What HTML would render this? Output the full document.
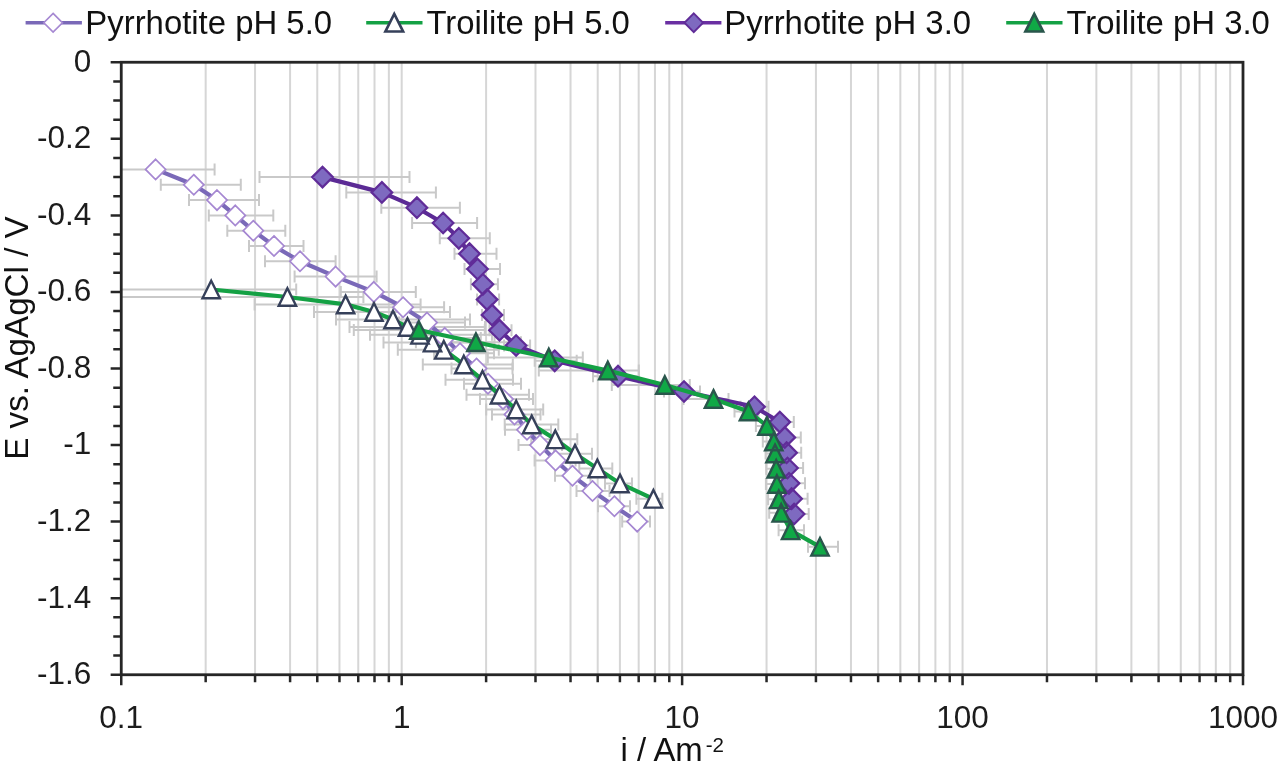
<!DOCTYPE html>
<html><head><meta charset="utf-8"><title>Chart</title>
<style>html,body{margin:0;padding:0;background:#fff;}svg{display:block;will-change:transform;}</style>
</head><body>
<svg width="1280" height="772" viewBox="0 0 1280 772">
<rect width="1280" height="772" fill="#ffffff"/>
<path d="M205.67 62.25V674.75M255.05 62.25V674.75M290.09 62.25V674.75M317.27 62.25V674.75M339.47 62.25V674.75M358.25 62.25V674.75M374.51 62.25V674.75M388.86 62.25V674.75M401.69 62.25V674.75M486.11 62.25V674.75M535.49 62.25V674.75M570.53 62.25V674.75M597.70 62.25V674.75M619.91 62.25V674.75M638.68 62.25V674.75M654.95 62.25V674.75M669.29 62.25V674.75M682.12 62.25V674.75M766.55 62.25V674.75M815.93 62.25V674.75M850.97 62.25V674.75M878.14 62.25V674.75M900.35 62.25V674.75M919.12 62.25V674.75M935.39 62.25V674.75M949.73 62.25V674.75M962.56 62.25V674.75M1046.98 62.25V674.75M1096.37 62.25V674.75M1131.40 62.25V674.75M1158.58 62.25V674.75M1180.79 62.25V674.75M1199.56 62.25V674.75M1215.82 62.25V674.75M1230.17 62.25V674.75" stroke="#d6d6d6" stroke-width="2" fill="none"/>
<clipPath id="cp"><rect x="121.25" y="62.25" width="1121.75" height="612.5"/></clipPath>
<g clip-path="url(#cp)">
<path d="M95.6 169.4H214.6M95.6 163.4v12M214.6 163.4v12M160.8 184.8H240.8M160.8 178.8v12M240.8 178.8v12M189.0 200.1H259.0M189.0 194.1v12M259.0 194.1v12M208.8 215.4H273.3M208.8 209.4v12M273.3 209.4v12M227.3 230.7H285.3M227.3 224.7v12M285.3 224.7v12M249.0 246.0H303.5M249.0 240.0v12M303.5 240.0v12M265.0 261.3H335.6M265.0 255.3v12M335.6 255.3v12M294.6 276.6H376.6M294.6 270.6v12M376.6 270.6v12M340.8 291.9H415.8M340.8 285.9v12M415.8 285.9v12M373.1 307.2H444.1M373.1 301.2v12M444.1 301.2v12M399.0 322.6H465.0M399.0 316.6v12M465.0 316.6v12M417.8 337.9H480.8M417.8 331.9v12M480.8 331.9v12M434.0 353.2H494.0M434.0 347.2v12M494.0 347.2v12M451.5 368.5H512.5M451.5 362.5v12M512.5 362.5v12M464.0 383.8H521.0M464.0 377.8v12M521.0 377.8v12M480.0 399.1H533.0M480.0 393.1v12M533.0 393.1v12M492.0 414.4H540.5M492.0 408.4v12M540.5 408.4v12M505.0 429.8H551.0M505.0 423.8v12M551.0 423.8v12M518.5 445.1H562.0M518.5 439.1v12M562.0 439.1v12M534.6 460.4H575.6M534.6 454.4v12M575.6 454.4v12M555.0 475.7H590.5M555.0 469.7v12M590.5 469.7v12M576.5 491.0H609.5M576.5 485.0v12M609.5 485.0v12M598.0 506.3H630.0M598.0 500.3v12M630.0 500.3v12M622.2 521.6H650.0M622.2 515.6v12M650.0 515.6v12" stroke="#c9c9c9" stroke-width="2" fill="none"/>
<path d="M11.2 289.5H296.2M11.2 283.5v12M296.2 283.5v12M87.4 297.0H363.4M87.4 291.0v12M363.4 291.0v12M254.6 304.4H420.6M254.6 298.4v12M420.6 298.4v12M314.0 312.0H450.0M314.0 306.0v12M450.0 306.0v12M336.0 319.5H470.0M336.0 313.5v12M470.0 313.5v12M349.5 327.0H485.0M349.5 321.0v12M485.0 321.0v12M370.0 334.8H492.0M370.0 328.8v12M492.0 328.8v12M383.5 342.6H494.5M383.5 336.6v12M494.5 336.6v12M397.8 349.8H498.8M397.8 343.8v12M498.8 343.8v12M422.8 364.5H512.8M422.8 358.5v12M512.8 358.5v12M445.5 379.8H513.0M445.5 373.8v12M513.0 373.8v12M466.5 394.7H529.0M466.5 388.7v12M529.0 388.7v12M486.2 409.5H543.2M486.2 403.5v12M543.2 403.5v12M504.7 424.4H558.3M504.7 418.4v12M558.3 418.4v12M531.3 439.3H577.3M531.3 433.3v12M577.3 433.3v12M554.0 453.7H592.0M554.0 447.7v12M592.0 447.7v12M579.3 468.4H612.3M579.3 462.4v12M612.3 462.4v12M605.0 483.4H632.0M605.0 477.4v12M632.0 477.4v12M636.4 498.8H662.4M636.4 492.8v12M662.4 492.8v12" stroke="#c9c9c9" stroke-width="2" fill="none"/>
<path d="M259.5 177.1H409.5M259.5 171.1v12M409.5 171.1v12M346.3 192.4H435.9M346.3 186.4v12M435.9 186.4v12M381.3 207.7H459.9M381.3 201.7v12M459.9 201.7v12M412.1 223.0H477.1M412.1 217.0v12M477.1 217.0v12M439.8 238.3H489.8M439.8 232.3v12M489.8 232.3v12M454.5 253.7H496.5M454.5 247.7v12M496.5 247.7v12M464.5 269.0H500.0M464.5 263.0v12M500.0 263.0v12M470.9 284.3H497.9M470.9 278.3v12M497.9 278.3v12M477.1 299.6H499.1M477.1 293.6v12M499.1 293.6v12M482.0 314.9H504.0M482.0 308.9v12M504.0 308.9v12M489.5 330.2H511.5M489.5 324.2v12M511.5 324.2v12M504.1 345.5H530.1M504.1 339.5v12M530.1 339.5v12M534.7 360.8H576.7M534.7 354.8v12M576.7 354.8v12M593.0 376.2H639.0M593.0 370.2v12M639.0 370.2v12M664.0 391.5H700.0M664.0 385.5v12M700.0 385.5v12M740.5 406.8H768.5M740.5 400.8v12M768.5 400.8v12M767.8 422.1H793.8M767.8 416.1v12M793.8 416.1v12M772.8 437.4H800.8M772.8 431.4v12M800.8 431.4v12M774.6 452.7H801.2M774.6 446.7v12M801.2 446.7v12M775.5 468.0H803.1M775.5 462.0v12M803.1 462.0v12M777.0 483.3H805.0M777.0 477.3v12M805.0 477.3v12M779.6 498.7H807.6M779.6 492.7v12M807.6 492.7v12M782.1 514.0H808.7M782.1 508.0v12M808.7 508.0v12" stroke="#c9c9c9" stroke-width="2" fill="none"/>
<path d="M353.8 330.0H484.8M353.8 324.0v12M484.8 324.0v12M415.9 342.2H520.9M415.9 336.2v12M520.9 336.2v12M487.8 357.5H582.8M487.8 351.5v12M582.8 351.5v12M538.8 370.6H638.8M538.8 364.6v12M638.8 364.6v12M611.8 385.0H689.8M611.8 379.0v12M689.8 379.0v12M683.5 398.9H728.5M683.5 392.9v12M728.5 392.9v12M734.5 411.5H758.5M734.5 405.5v12M758.5 405.5v12M755.9 425.9H775.9M755.9 419.9v12M775.9 419.9v12M762.8 441.5H782.8M762.8 435.5v12M782.8 435.5v12M765.6 453.4H784.0M765.6 447.4v12M784.0 447.4v12M766.2 468.8H785.2M766.2 462.8v12M785.2 462.8v12M765.9 484.0H785.9M765.9 478.0v12M785.9 478.0v12M768.1 499.3H787.8M768.1 493.3v12M787.8 493.3v12M769.2 512.8H790.2M769.2 506.8v12M790.2 506.8v12M778.6 530.3H804.0M778.6 524.3v12M804.0 524.3v12M808.0 546.8H838.0M808.0 540.8v12M838.0 540.8v12" stroke="#c9c9c9" stroke-width="2" fill="none"/>
<path d="M155.6 169.4L193.8 184.8L217.0 200.1L235.3 215.4L253.3 230.7L274.0 246.0L300.0 261.3L335.6 276.6L373.8 291.9L403.1 307.2L427.0 322.6L444.8 337.9L460.0 353.2L476.5 368.5L488.0 383.8L503.0 399.1L514.5 414.4L527.0 429.8L540.0 445.1L555.6 460.4L572.5 475.7L592.5 491.0L614.4 506.3L637.2 521.6" stroke="#7a69b8" stroke-width="4.2" fill="none" stroke-linejoin="round" stroke-linecap="round"/>
<path d="M155.6 159.3l10.1 10.1l-10.1 10.1l-10.1 -10.1zM193.8 174.7l10.1 10.1l-10.1 10.1l-10.1 -10.1zM217.0 190.0l10.1 10.1l-10.1 10.1l-10.1 -10.1zM235.3 205.3l10.1 10.1l-10.1 10.1l-10.1 -10.1zM253.3 220.6l10.1 10.1l-10.1 10.1l-10.1 -10.1zM274.0 235.9l10.1 10.1l-10.1 10.1l-10.1 -10.1zM300.0 251.2l10.1 10.1l-10.1 10.1l-10.1 -10.1zM335.6 266.5l10.1 10.1l-10.1 10.1l-10.1 -10.1zM373.8 281.8l10.1 10.1l-10.1 10.1l-10.1 -10.1zM403.1 297.1l10.1 10.1l-10.1 10.1l-10.1 -10.1zM427.0 312.5l10.1 10.1l-10.1 10.1l-10.1 -10.1zM444.8 327.8l10.1 10.1l-10.1 10.1l-10.1 -10.1zM460.0 343.1l10.1 10.1l-10.1 10.1l-10.1 -10.1zM476.5 358.4l10.1 10.1l-10.1 10.1l-10.1 -10.1zM488.0 373.7l10.1 10.1l-10.1 10.1l-10.1 -10.1zM503.0 389.0l10.1 10.1l-10.1 10.1l-10.1 -10.1zM514.5 404.3l10.1 10.1l-10.1 10.1l-10.1 -10.1zM527.0 419.7l10.1 10.1l-10.1 10.1l-10.1 -10.1zM540.0 435.0l10.1 10.1l-10.1 10.1l-10.1 -10.1zM555.6 450.3l10.1 10.1l-10.1 10.1l-10.1 -10.1zM572.5 465.6l10.1 10.1l-10.1 10.1l-10.1 -10.1zM592.5 480.9l10.1 10.1l-10.1 10.1l-10.1 -10.1zM614.4 496.2l10.1 10.1l-10.1 10.1l-10.1 -10.1zM637.2 511.5l10.1 10.1l-10.1 10.1l-10.1 -10.1z" fill="#ffffff" stroke="#a688d2" stroke-width="1.7" stroke-linejoin="miter"/>
<path d="M211.2 289.5L287.4 297.0L345.6 304.4L374.0 312.0L393.0 319.5L407.5 327.0L420.0 334.8L432.5 342.6L443.8 349.8L463.8 364.5L482.5 379.8L499.5 394.7L516.2 409.5L531.7 424.4L555.3 439.3L575.0 453.7L597.3 468.4L620.0 483.4L653.4 498.8" stroke="#14a144" stroke-width="4.2" fill="none" stroke-linejoin="round" stroke-linecap="round"/>
<path d="M211.2 280.7l8.7 17.6h-17.4zM287.4 288.2l8.7 17.6h-17.4zM345.6 295.6l8.7 17.6h-17.4zM374.0 303.2l8.7 17.6h-17.4zM393.0 310.7l8.7 17.6h-17.4zM407.5 318.2l8.7 17.6h-17.4zM420.0 326.0l8.7 17.6h-17.4zM432.5 333.8l8.7 17.6h-17.4zM443.8 341.0l8.7 17.6h-17.4zM463.8 355.7l8.7 17.6h-17.4zM482.5 371.0l8.7 17.6h-17.4zM499.5 385.9l8.7 17.6h-17.4zM516.2 400.7l8.7 17.6h-17.4zM531.7 415.6l8.7 17.6h-17.4zM555.3 430.5l8.7 17.6h-17.4zM575.0 444.9l8.7 17.6h-17.4zM597.3 459.6l8.7 17.6h-17.4zM620.0 474.6l8.7 17.6h-17.4zM653.4 490.0l8.7 17.6h-17.4z" fill="#ffffff" stroke="#36405a" stroke-width="2.4" stroke-linejoin="miter"/>
<path d="M322.5 177.1L381.9 192.4L416.9 207.7L443.1 223.0L458.8 238.3L469.5 253.7L477.5 269.0L482.9 284.3L487.1 299.6L492.0 314.9L499.5 330.2L516.1 345.5L554.7 360.8L618.0 376.2L684.0 391.5L754.5 406.8L779.8 422.1L784.8 437.4L786.6 452.7L787.5 468.0L789.0 483.3L791.6 498.7L794.1 514.0" stroke="#5b2a95" stroke-width="4.2" fill="none" stroke-linejoin="round" stroke-linecap="round"/>
<path d="M322.5 166.8l10.3 10.3l-10.3 10.3l-10.3 -10.3zM381.9 182.1l10.3 10.3l-10.3 10.3l-10.3 -10.3zM416.9 197.4l10.3 10.3l-10.3 10.3l-10.3 -10.3zM443.1 212.7l10.3 10.3l-10.3 10.3l-10.3 -10.3zM458.8 228.0l10.3 10.3l-10.3 10.3l-10.3 -10.3zM469.5 243.4l10.3 10.3l-10.3 10.3l-10.3 -10.3zM477.5 258.7l10.3 10.3l-10.3 10.3l-10.3 -10.3zM482.9 274.0l10.3 10.3l-10.3 10.3l-10.3 -10.3zM487.1 289.3l10.3 10.3l-10.3 10.3l-10.3 -10.3zM492.0 304.6l10.3 10.3l-10.3 10.3l-10.3 -10.3zM499.5 319.9l10.3 10.3l-10.3 10.3l-10.3 -10.3zM516.1 335.2l10.3 10.3l-10.3 10.3l-10.3 -10.3zM554.7 350.5l10.3 10.3l-10.3 10.3l-10.3 -10.3zM618.0 365.9l10.3 10.3l-10.3 10.3l-10.3 -10.3zM684.0 381.2l10.3 10.3l-10.3 10.3l-10.3 -10.3zM754.5 396.5l10.3 10.3l-10.3 10.3l-10.3 -10.3zM779.8 411.8l10.3 10.3l-10.3 10.3l-10.3 -10.3zM784.8 427.1l10.3 10.3l-10.3 10.3l-10.3 -10.3zM786.6 442.4l10.3 10.3l-10.3 10.3l-10.3 -10.3zM787.5 457.7l10.3 10.3l-10.3 10.3l-10.3 -10.3zM789.0 473.0l10.3 10.3l-10.3 10.3l-10.3 -10.3zM791.6 488.4l10.3 10.3l-10.3 10.3l-10.3 -10.3zM794.1 503.7l10.3 10.3l-10.3 10.3l-10.3 -10.3z" fill="#7e6ac0" stroke="#602c98" stroke-width="2.2" stroke-linejoin="miter"/>
<path d="M418.8 330.0L475.9 342.2L548.8 357.5L607.8 370.6L664.8 385.0L713.5 398.9L748.5 411.5L766.9 425.9L773.8 441.5L775.0 453.4L776.2 468.8L776.9 484.0L778.8 499.3L781.2 512.8L790.6 530.3L820.0 546.8" stroke="#14a144" stroke-width="4.2" fill="none" stroke-linejoin="round" stroke-linecap="round"/>
<path d="M418.8 321.2l8.7 17.6h-17.4zM475.9 333.4l8.7 17.6h-17.4zM548.8 348.7l8.7 17.6h-17.4zM607.8 361.8l8.7 17.6h-17.4zM664.8 376.2l8.7 17.6h-17.4zM713.5 390.1l8.7 17.6h-17.4zM748.5 402.7l8.7 17.6h-17.4zM766.9 417.1l8.7 17.6h-17.4zM773.8 432.7l8.7 17.6h-17.4zM775.0 444.6l8.7 17.6h-17.4zM776.2 460.0l8.7 17.6h-17.4zM776.9 475.2l8.7 17.6h-17.4zM778.8 490.5l8.7 17.6h-17.4zM781.2 504.0l8.7 17.6h-17.4zM790.6 521.5l8.7 17.6h-17.4zM820.0 538.0l8.7 17.6h-17.4z" fill="#10a846" stroke="#2a564c" stroke-width="2.4" stroke-linejoin="miter"/>
</g>
<rect x="121.25" y="62.25" width="1121.75" height="612.5" fill="none" stroke="#262626" stroke-width="2.8"/>
<path d="M110.65 62.25H121.25M113.25 81.39H121.25M113.25 100.53H121.25M113.25 119.67H121.25M110.65 138.81H121.25M113.25 157.95H121.25M113.25 177.09H121.25M113.25 196.23H121.25M110.65 215.38H121.25M113.25 234.52H121.25M113.25 253.66H121.25M113.25 272.80H121.25M110.65 291.94H121.25M113.25 311.08H121.25M113.25 330.22H121.25M113.25 349.36H121.25M110.65 368.50H121.25M113.25 387.64H121.25M113.25 406.78H121.25M113.25 425.92H121.25M110.65 445.06H121.25M113.25 464.20H121.25M113.25 483.34H121.25M113.25 502.48H121.25M110.65 521.62H121.25M113.25 540.77H121.25M113.25 559.91H121.25M113.25 579.05H121.25M110.65 598.19H121.25M113.25 617.33H121.25M113.25 636.47H121.25M113.25 655.61H121.25M110.65 674.75H121.25M121.25 674.75v10.4M205.67 674.75v7.6M255.05 674.75v7.6M290.09 674.75v7.6M317.27 674.75v7.6M339.47 674.75v7.6M358.25 674.75v7.6M374.51 674.75v7.6M388.86 674.75v7.6M401.69 674.75v10.4M486.11 674.75v7.6M535.49 674.75v7.6M570.53 674.75v7.6M597.70 674.75v7.6M619.91 674.75v7.6M638.68 674.75v7.6M654.95 674.75v7.6M669.29 674.75v7.6M682.12 674.75v10.4M766.55 674.75v7.6M815.93 674.75v7.6M850.97 674.75v7.6M878.14 674.75v7.6M900.35 674.75v7.6M919.12 674.75v7.6M935.39 674.75v7.6M949.73 674.75v7.6M962.56 674.75v10.4M1046.98 674.75v7.6M1096.37 674.75v7.6M1131.40 674.75v7.6M1158.58 674.75v7.6M1180.79 674.75v7.6M1199.56 674.75v7.6M1215.82 674.75v7.6M1230.17 674.75v7.6M1243.00 674.75v10.4" stroke="#262626" stroke-width="2.5" fill="none"/>
<g font-family="Liberation Sans, sans-serif" font-size="31.5" fill="#1c1c1c" text-anchor="end">
<text x="91.2" y="71.5">0</text>
<text x="91.2" y="148.1">-0.2</text>
<text x="91.2" y="224.7">-0.4</text>
<text x="91.2" y="301.2">-0.6</text>
<text x="91.2" y="377.8">-0.8</text>
<text x="91.2" y="454.4">-1</text>
<text x="91.2" y="530.9">-1.2</text>
<text x="91.2" y="607.5">-1.4</text>
<text x="91.2" y="684.0">-1.6</text>
</g>
<g font-family="Liberation Sans, sans-serif" font-size="31.5" fill="#1c1c1c" text-anchor="middle">
<text x="121.2" y="727.6">0.1</text>
<text x="401.7" y="727.6">1</text>
<text x="682.1" y="727.6">10</text>
<text x="962.6" y="727.6">100</text>
<text x="1243.0" y="727.6">1000</text>
</g>
<text font-family="Liberation Sans, sans-serif" font-size="32.9" fill="#111" x="620.5" y="761.2">i / Am<tspan font-size="20.5" dx="3" dy="-9.6">-2</tspan></text>
<text font-family="Liberation Sans, sans-serif" font-size="33.2" fill="#111" text-anchor="middle" transform="translate(27.9 338) rotate(-90)">E vs. AgAgCl / V</text>
<g font-family="Liberation Sans, sans-serif" font-size="32.9" fill="#111">
<path d="M25.6 22.75H81.9" stroke="#7a69b8" stroke-width="3.6"/>
<path d="M53.1 13.45l9.3 9.3l-9.3 9.3l-9.3 -9.3z" fill="#fff" stroke="#a688d2" stroke-width="1.7"/>
<text x="85.3" y="33.7">Pyrrhotite pH 5.0</text>
<path d="M366.2 22.75H422.5" stroke="#14a144" stroke-width="3.6"/>
<path d="M394.25 13.95l8.9 17.6h-17.8z" fill="#fff" stroke="#36405a" stroke-width="2.6"/>
<text x="426.4" y="33.7">Troilite pH 5.0</text>
<path d="M665.2 22.75H721.4" stroke="#6a2fa2" stroke-width="3.6"/>
<path d="M693.75 13.45l9.3 9.3l-9.3 9.3l-9.3 -9.3z" fill="#7e6ac0" stroke="#602c98" stroke-width="1.9"/>
<text x="724.3" y="33.7">Pyrrhotite pH 3.0</text>
<path d="M1006.2 22.75H1062.5" stroke="#14a144" stroke-width="3.6"/>
<path d="M1034.25 13.95l8.9 17.6h-17.8z" fill="#10a846" stroke="#2a564c" stroke-width="2.6"/>
<text x="1066.4" y="33.7">Troilite pH 3.0</text>
</g>
</svg>
</body></html>
